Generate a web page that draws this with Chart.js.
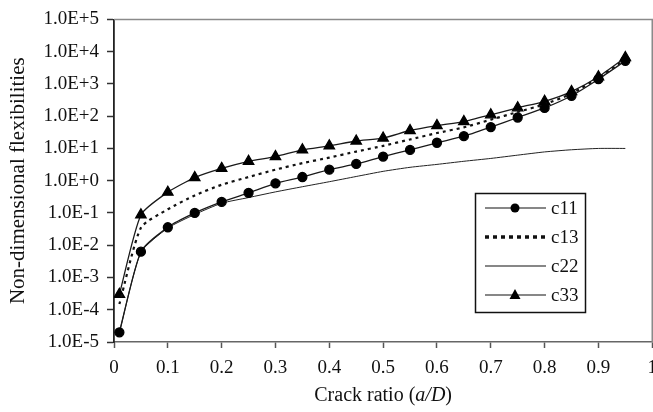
<!DOCTYPE html>
<html>
<head>
<meta charset="utf-8">
<script src="https://cdn.jsdelivr.net/npm/chart.js@4.4.0/dist/chart.umd.min.js"></script>
<style>
  html, body { margin: 0; padding: 0; background: #fff; }
  #wrap { width: 653px; height: 412px; overflow: hidden; position: relative; }
</style>
</head>
<body>
<div id="wrap"><canvas id="myChart" width="666" height="412"></canvas></div>
<script>
// crack ratio a/D
const crackRatio = [0.01, 0.05, 0.1, 0.15, 0.2, 0.25, 0.3, 0.35, 0.4, 0.45, 0.5, 0.55, 0.6, 0.65, 0.7, 0.75, 0.8, 0.85, 0.9, 0.95];

// non-dimensional flexibilities
const c11 = [2e-5, 6.3e-3, 0.036, 0.1, 0.22, 0.42, 0.83, 1.3, 2.2, 3.3, 5.6, 9, 15, 24, 46, 91, 180, 430, 1400, 5200];
const c13 = [1.5e-4, 0.035, 0.13, 0.35, 0.75, 1.3, 2.2, 3.5, 5.2, 8, 12, 19, 30, 45, 78, 135, 235, 500, 1550, 5700];
const c22 = [2e-5, 6e-3, 0.034, 0.09, 0.2, 0.3, 0.45, 0.65, 0.93, 1.35, 1.95, 2.6, 3.2, 4.0, 4.9, 6.2, 7.8, 9.1, 10, 10];
const c33 = [3e-4, 0.087, 0.44, 1.25, 2.4, 4, 5.6, 9, 12, 17, 21, 36, 51, 68, 110, 182, 290, 580, 1660, 6600];

const seriesNames = ['c11', 'c13', 'c22', 'c33'];

const xTicks = [0, 0.1, 0.2, 0.3, 0.4, 0.5, 0.6, 0.7, 0.8, 0.9, 1];
const xTickLabels = ['0', '0.1', '0.2', '0.3', '0.4', '0.5', '0.6', '0.7', '0.8', '0.9', '1'];
const yTicks = [1e-5, 1e-4, 1e-3, 1e-2, 1e-1, 1e0, 1e1, 1e2, 1e3, 1e4, 1e5];
const yTickLabels = ['1.0E-5', '1.0E-4', '1.0E-3', '1.0E-2', '1.0E-1', '1.0E+0', '1.0E+1', '1.0E+2', '1.0E+3', '1.0E+4', '1.0E+5'];

const FONT = 'Liberation Serif, Times New Roman, serif';

const toPoints = (ys) => crackRatio.map((x, i) => ({ x: x, y: ys[i] }));

// box around the plot (top and right edges)
const framePlugin = {
    id: 'frame',
    afterDraw(chart) {
        const { ctx, chartArea: a } = chart;
        ctx.save();
        ctx.strokeStyle = '#8a8a8a';
        ctx.lineWidth = 1.5;
        ctx.beginPath();
        ctx.moveTo(a.left, a.top);
        ctx.lineTo(a.right, a.top);
        ctx.lineTo(a.right, a.bottom);
        ctx.stroke();
        ctx.restore();
    }
};

// x title with the italic a/D part
const xTitlePlugin = {
    id: 'xTitle',
    afterDraw(chart) {
        const ctx = chart.ctx;
        const a = chart.chartArea;
        const parts = [
            ['Crack ratio (', '20px ' + FONT],
            ['a/D', 'italic 20px ' + FONT],
            [')', '20px ' + FONT]
        ];
        ctx.save();
        let total = 0;
        parts.forEach(p => { ctx.font = p[1]; total += ctx.measureText(p[0]).width; });
        let x = (a.left + a.right) / 2 - total / 2;
        ctx.fillStyle = '#111';
        ctx.textBaseline = 'middle';
        ctx.textAlign = 'left';
        parts.forEach(p => {
            ctx.font = p[1];
            ctx.fillText(p[0], x, 396);
            x += ctx.measureText(p[0]).width;
        });
        ctx.restore();
    }
};

// legend drawn inside the plot, lower right
const boxLegend = {
    id: 'boxLegend',
    afterDraw(chart) {
        const ctx = chart.ctx;
        const bx = 475.5, by = 193.5, bw = 110, bh = 119;
        ctx.save();
        ctx.fillStyle = '#fff';
        ctx.fillRect(bx, by, bw, bh);
        ctx.strokeStyle = '#111';
        ctx.lineWidth = 1.5;
        ctx.strokeRect(bx, by, bw, bh);
        const rows = [208, 237, 266, 295];
        const x0 = 485, x1 = 546, mx = 515;
        chart.data.datasets.forEach((ds, i) => {
            const y = rows[i];
            ctx.strokeStyle = '#111';
            ctx.lineWidth = ds.label === 'c13' ? 3.5 : 1.2;
            ctx.setLineDash(ds.label === 'c13' ? [4, 4] : []);
            ctx.beginPath();
            ctx.moveTo(x0, y);
            ctx.lineTo(x1, y);
            ctx.stroke();
            ctx.setLineDash([]);
            ctx.fillStyle = '#000';
            if (ds.pointStyle === 'circle') {
                ctx.beginPath();
                ctx.arc(mx, y, 4.5, 0, Math.PI * 2);
                ctx.fill();
            } else if (ds.pointStyle === 'triangle') {
                ctx.beginPath();
                ctx.moveTo(mx, y - 6);
                ctx.lineTo(mx + 5.5, y + 4);
                ctx.lineTo(mx - 5.5, y + 4);
                ctx.closePath();
                ctx.fill();
            }
            ctx.fillStyle = '#111';
            ctx.font = '19px ' + FONT;
            ctx.textAlign = 'left';
            ctx.textBaseline = 'middle';
            ctx.fillText(ds.label, 551, y + 1);
        });
        ctx.restore();
    }
};

const ctx = document.getElementById('myChart').getContext('2d');

const myChart = new Chart(ctx, {
    type: 'line',
    data: {
        datasets: [
            {
                label: seriesNames[0],
                data: toPoints(c11),
                borderColor: '#1a1a1a',
                borderWidth: 1.3,
                pointStyle: 'circle',
                pointRadius: 4.5,
                pointBackgroundColor: '#000',
                pointBorderColor: '#000',
                tension: 0.2
            },
            {
                label: seriesNames[1],
                data: toPoints(c13),
                borderColor: '#111',
                borderWidth: 2.2,
                borderDash: [3, 4],
                pointRadius: 0,
                tension: 0.2
            },
            {
                label: seriesNames[2],
                data: toPoints(c22),
                borderColor: '#222',
                borderWidth: 1,
                pointRadius: 0,
                tension: 0.2
            },
            {
                label: seriesNames[3],
                data: toPoints(c33),
                borderColor: '#1a1a1a',
                borderWidth: 1.3,
                pointStyle: 'triangle',
                pointRadius: 6,
                pointBackgroundColor: '#000',
                pointBorderColor: '#000',
                tension: 0.2
            }
        ]
    },
    options: {
        responsive: false,
        animation: false,
        layout: { padding: { top: 11, right: 0, bottom: 0, left: 0 } },
        plugins: {
            legend: { display: false },
            tooltip: { enabled: false }
        },
        scales: {
            x: {
                type: 'linear',
                min: 0,
                max: 1,
                afterBuildTicks: (scale) => { scale.ticks = xTicks.map(v => ({ value: v })); },
                afterFit: (scale) => { scale.height = 70; },
                ticks: {
                    callback: (v, i) => xTickLabels[i],
                    color: '#111',
                    font: { family: FONT, size: 19 },
                    padding: 9,
                    maxRotation: 0,
                    autoSkip: false
                },
                grid: { drawOnChartArea: false, tickLength: 6, color: '#555', tickWidth: 1.5 },
                border: { color: '#666', width: 1.5 },
                title: { display: false }
            },
            y: {
                type: 'logarithmic',
                min: 1e-5,
                max: 1e5,
                afterBuildTicks: (scale) => { scale.ticks = yTicks.map(v => ({ value: v })); },
                afterFit: (scale) => { scale.width = 114; },
                ticks: {
                    callback: (v, i) => yTickLabels[i],
                    color: '#111',
                    font: { family: FONT, size: 19 },
                    padding: 8,
                    autoSkip: false
                },
                grid: { drawOnChartArea: false, tickLength: 7, color: '#333', tickWidth: 1.5 },
                border: { color: '#222', width: 1.8 },
                title: {
                    display: true,
                    text: 'Non-dimensional flexibilities',
                    color: '#111',
                    font: { family: FONT, size: 21 },
                    padding: { top: 6, bottom: 0 }
                }
            }
        }
    },
    plugins: [framePlugin, xTitlePlugin, boxLegend]
});
</script>
</body>
</html>
